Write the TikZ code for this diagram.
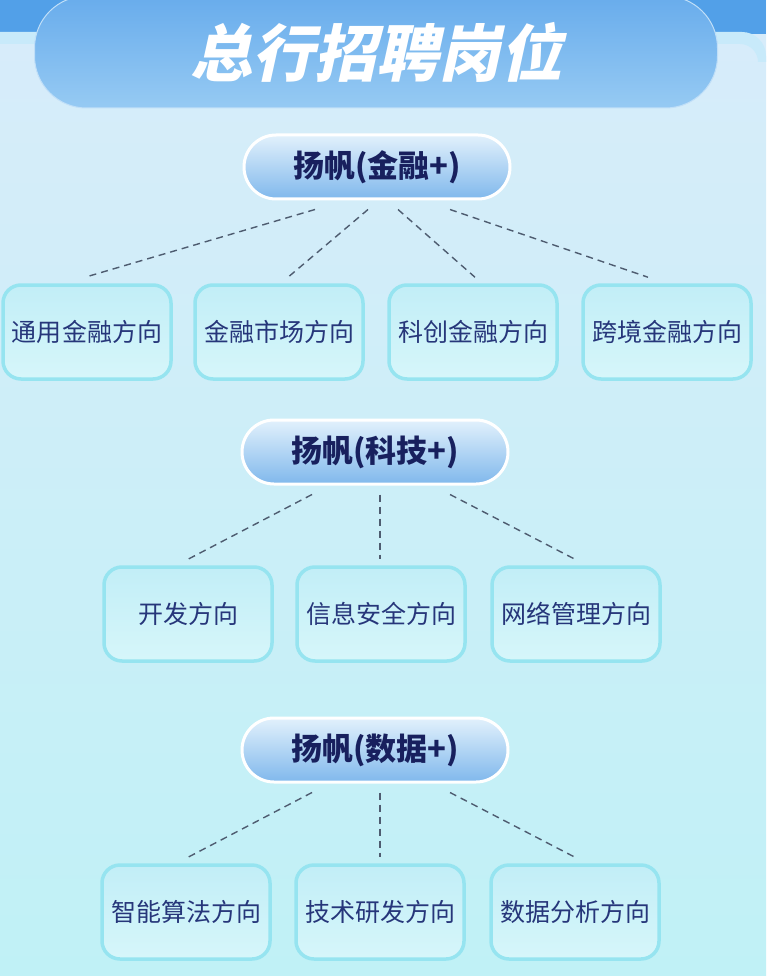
\documentclass[tikz,border=0pt]{standalone}
\usepackage{fontspec}
\newfontfamily\cjk{Noto Sans CJK SC}
\newfontfamily\cjktitle[FakeSlant=0.22]{Noto Sans CJK SC}
\usetikzlibrary{calc}
\definecolor{topblue}{RGB}{82,160,232}
\definecolor{pillblue}{RGB}{104,172,236}
\definecolor{pilllow}{RGB}{150,202,243}
\definecolor{navy}{RGB}{24,32,94}
\definecolor{boxtext}{RGB}{38,54,122}
\definecolor{boxrim}{RGB}{150,228,240}
\definecolor{boxtop}{RGB}{194,238,247}
\definecolor{boxlow}{RGB}{214,246,250}
\definecolor{headtop}{RGB}{226,241,252}
\definecolor{headlow}{RGB}{128,184,236}
\definecolor{bgtop}{RGB}{216,236,250}
\definecolor{bgmid}{RGB}{240,249,252}
\definecolor{bglow}{RGB}{192,241,246}
\definecolor{panelrim}{RGB}{200,234,250}
\definecolor{dashgray}{RGB}{78,92,112}
\tikzset{
  % big title pill on top
  titlepill/.style={rounded corners=52pt, minimum width=683pt, minimum height=112pt,
    top color=pillblue, bottom color=pilllow, draw=pilllow!60!white, line width=1pt,
    text=white, font=\cjktitle\bfseries\fontsize{62}{64}\selectfont},
  % group heading pills
  headpill/.style={rounded corners=32pt, minimum width=266pt, minimum height=64pt,
    top color=headtop, bottom color=headlow,
    draw=white, line width=3pt, text=navy, font=\cjk\bfseries\fontsize{31}{33}\selectfont},
  % direction boxes
  dirbox/.style={rounded corners=18pt, minimum width=168pt, minimum height=94pt,
    top color=boxtop, bottom color=boxlow,
    draw=boxrim, line width=3.5pt, text=boxtext, font=\cjk\fontsize{25}{27}\selectfont},
  dashline/.style={draw=dashgray, line width=1.4pt, dash pattern=on 7pt off 5pt},
}
\begin{document}
\begin{tikzpicture}[x=1pt,y=-1pt]
  \useasboundingbox (0,0) rectangle (766,976);
  \clip (0,0) rectangle (766,976);
  % background
  \shade[top color=bgtop, middle color=bgmid, bottom color=bglow] (0,0) rectangle (766,976);
  \fill[topblue] (0,0) rectangle (766,34);
  \fill[panelrim] (0,32) -- (742,32) arc[start angle=90, end angle=0, radius=24pt] -- (766,62) -- (758,62)
    arc[start angle=0, end angle=90, radius=18pt] -- (0,44) -- cycle;
  % title
  \node[titlepill] (title) at (376,52) {总行招聘岗位};
  % group headings
  \node[headpill] (h1) at (377,167) {扬帆(金融+)};
  \node[headpill] (h2) at (375,452) {扬帆(科技+)};
  \node[headpill] (h3) at (375,750) {扬帆(数据+)};
  % direction boxes
  \foreach \name/\x/\txt in {a1/87/通用金融方向, a2/279/金融市场方向, a3/473/科创金融方向, a4/667/跨境金融方向}
    \node[dirbox] (\name) at (\x,332) {\txt};
  \foreach \name/\x/\txt in {b1/188/开发方向, b2/381/信息安全方向, b3/576/网络管理方向}
    \node[dirbox] (\name) at (\x,614) {\txt};
  \foreach \name/\x/\txt in {c1/186/智能算法方向, c2/380/技术研发方向, c3/575/数据分析方向}
    \node[dirbox] (\name) at (\x,912) {\txt};
  % dashed connectors
  \foreach \from/\dx/\to/\ex in {h1/-62/a1/-2, h1/-9/a2/9, h1/21/a3/2, h1/73/a4/-19,
      h2/-63/b1/0, h2/5/b2/-1, h2/75/b3/-1,
      h3/-63/c1/2, h3/5/c2/0, h3/75/c3/0}
    \draw[dashline] ([xshift=\dx pt,yshift=-9pt]\from.south) -- ([xshift=\ex pt,yshift=6pt]\to.north);
\end{tikzpicture}
\end{document}
